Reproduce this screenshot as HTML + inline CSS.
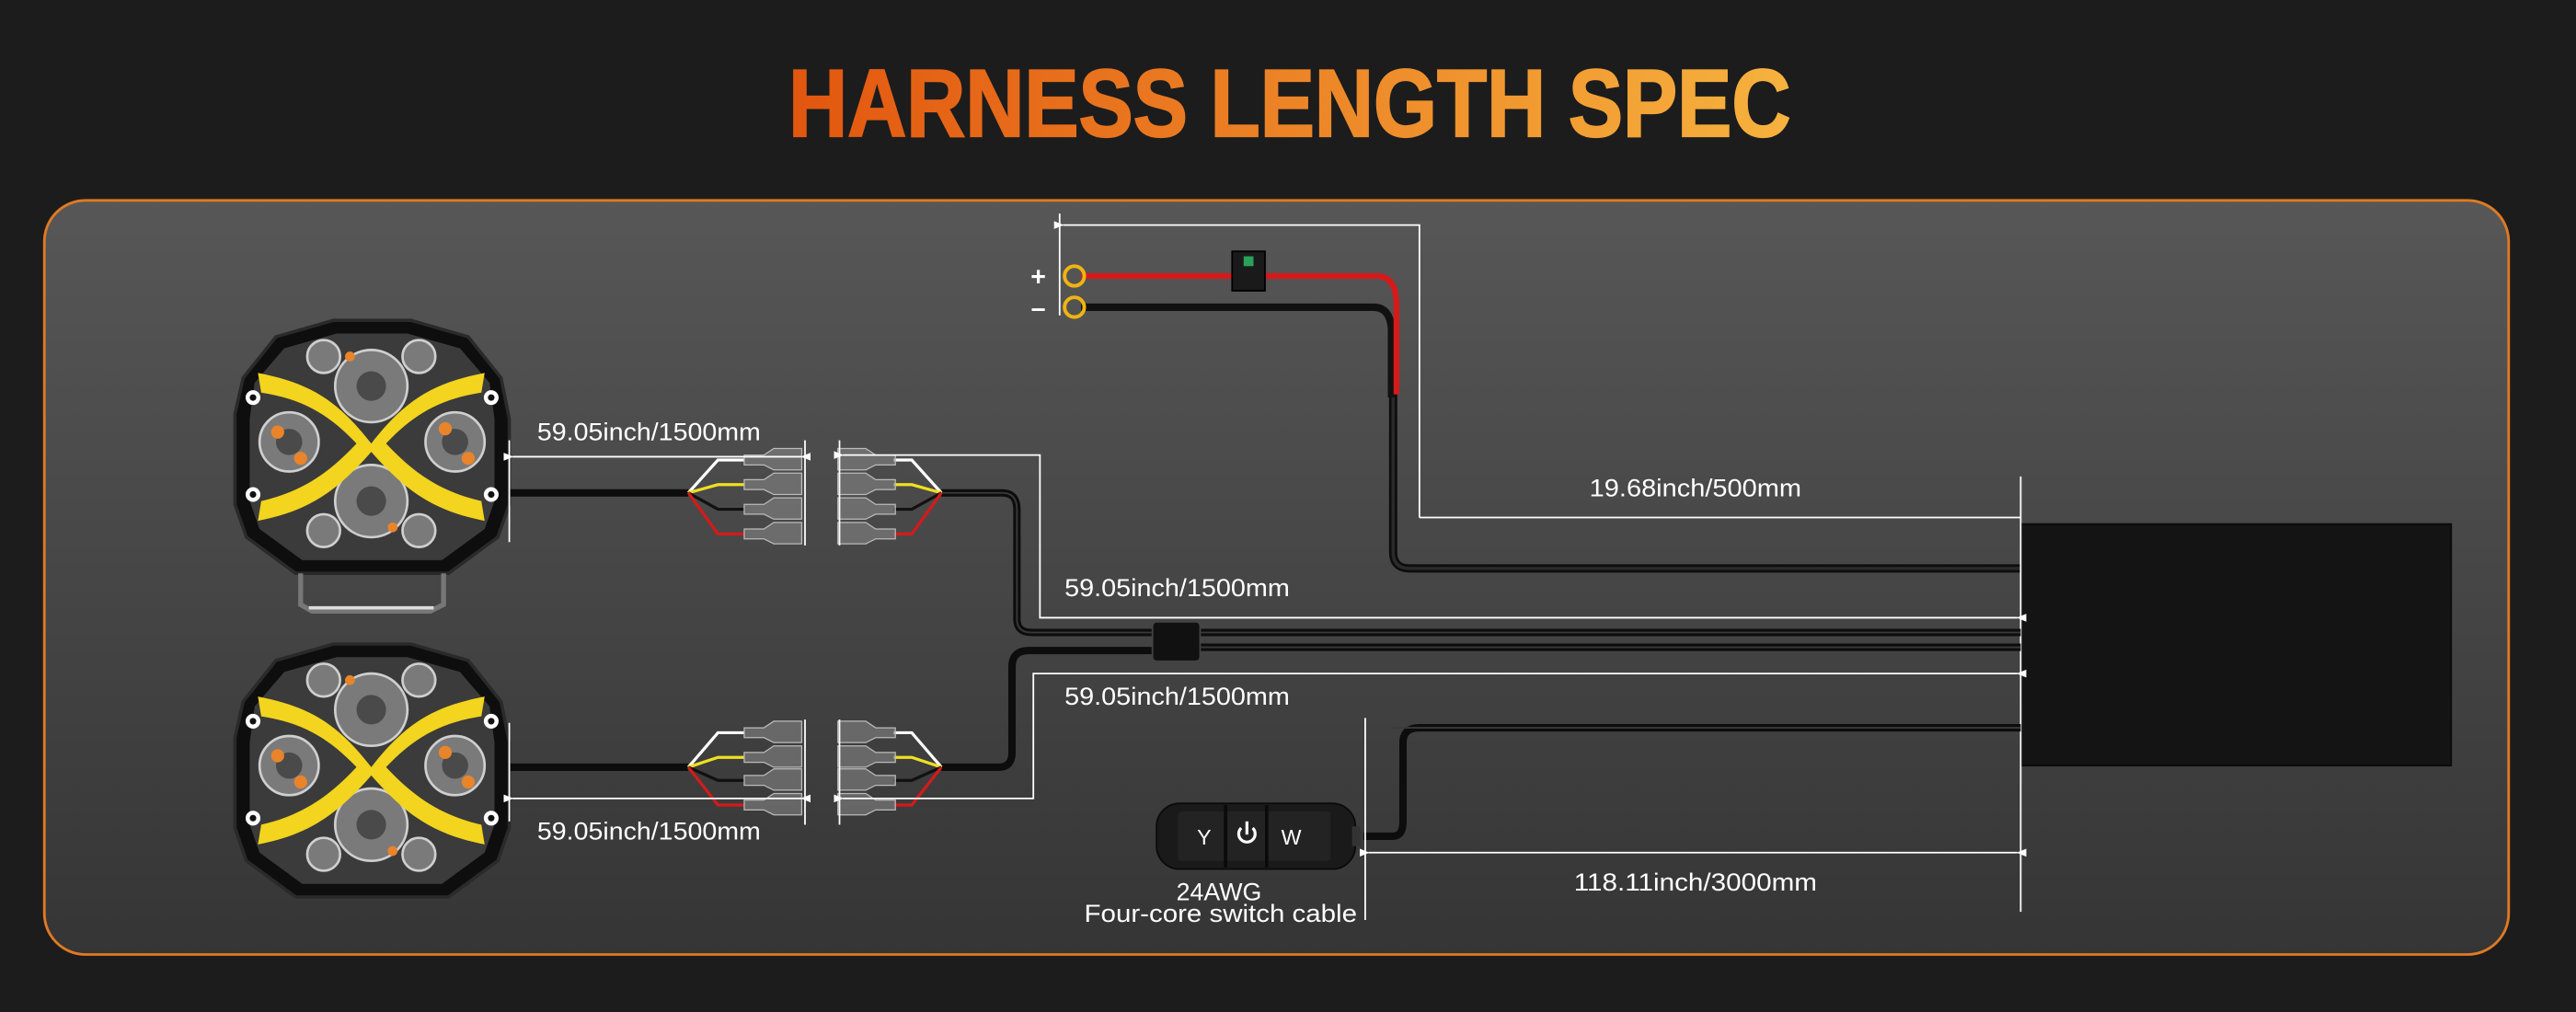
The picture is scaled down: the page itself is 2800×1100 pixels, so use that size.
<!DOCTYPE html>
<html><head><meta charset="utf-8"><style>
html,body{margin:0;padding:0;background:#1b1b1b;}
svg{display:block;}
text{font-family:"Liberation Sans",Arial,sans-serif;}
</style></head><body>
<svg width="2800" height="1100" viewBox="0 0 1568 616" preserveAspectRatio="none" xmlns="http://www.w3.org/2000/svg">
<defs>
<linearGradient id="pg" x1="0" y1="0" x2="0" y2="1">
<stop offset="0" stop-color="#575757"/><stop offset="1" stop-color="#353535"/></linearGradient>
<linearGradient id="tg" x1="0" y1="0" x2="1" y2="0">
<stop offset="0" stop-color="#e2560f"/><stop offset="1" stop-color="#f6b23e"/></linearGradient>
<marker id="al" viewBox="0 0 10 10" refX="1" refY="5" markerWidth="6" markerHeight="6" orient="auto-start-reverse"><path d="M10,1 L0,5 L10,9 z" fill="#fff"/></marker>
<g id="light">
<polygon points="25,10 60,0 107,0 142,10 162,35 167,60 167,112 160,132 130,154 37,154 7,132 0,112 0,57 5,35" fill="#0e0e0e" stroke="#2a2a2a" stroke-width="2"/>
<polygon points="30,17 62,8 105,8 137,17 155,38 158,60 158,110 152,127 126,146 41,146 15,127 9,110 9,60 12,38" fill="#3b3b3b"/>
<g fill="#7a7a7a" stroke="#cfcfcf" stroke-width="1.5">
<circle cx="83" cy="40" r="22"/><circle cx="83" cy="110" r="22"/>
<circle cx="33" cy="74" r="18"/><circle cx="134" cy="74" r="18"/>
<circle cx="54" cy="22" r="10"/><circle cx="112" cy="22" r="10"/>
<circle cx="54" cy="128" r="10"/><circle cx="112" cy="128" r="10"/></g>
<g fill="#4a4a4a"><circle cx="83" cy="40" r="9"/><circle cx="83" cy="110" r="9"/><circle cx="33" cy="74" r="8"/><circle cx="134" cy="74" r="8"/></g>
<g fill="#e9842a"><circle cx="26" cy="68" r="4"/><circle cx="40" cy="84" r="4"/><circle cx="128" cy="66" r="4"/><circle cx="142" cy="84" r="4"/><circle cx="70" cy="22" r="3"/><circle cx="96" cy="126" r="3"/></g>
<path d="M14,32 C45,38 62,48 83,75 C104,48 121,38 152,32 L150,44 C124,48 108,58 92,75 C108,92 124,104 150,110 L152,122 C121,116 104,104 83,80 C62,104 45,116 14,122 L16,110 C42,104 58,92 74,75 C58,58 42,48 16,44 Z" fill="#f3d41e"/>
<g fill="#fff"><circle cx="11" cy="47" r="4.5"/><circle cx="11" cy="106" r="4.5"/><circle cx="156" cy="47" r="4.5"/><circle cx="156" cy="106" r="4.5"/></g>
<g fill="#111"><circle cx="11" cy="47" r="2"/><circle cx="11" cy="106" r="2"/><circle cx="156" cy="47" r="2"/><circle cx="156" cy="106" r="2"/></g>
</g>
<g id="conn" fill="#8a8a8a" fill-opacity="0.55" stroke="#bbb" stroke-width="0.7">
<path d="M0,-3 h12 l6,-4 h17 v13 h-17 l-6,-3 h-12 z"/>
</g>
</defs>

<rect width="1568" height="616" fill="#1c1c1c"/>
<text x="785" y="83" text-anchor="middle" font-size="58" font-weight="bold" fill="url(#tg)" stroke="url(#tg)" stroke-width="1.2" textLength="610" lengthAdjust="spacingAndGlyphs">HARNESS LENGTH SPEC</text>

<rect x="27" y="122" width="1500" height="459" rx="25" fill="url(#pg)" stroke="#e07a22" stroke-width="1.6"/>

<rect x="1230" y="319" width="262" height="147" fill="#141414" stroke="#0a0a0a" stroke-width="1"/>

<path d="M848,240 V336 Q848,346 858,346 H1230" fill="none" stroke="#0d0d0d" stroke-width="5"/>
<path d="M848,240 V336 Q848,346 858,346 H1230" fill="none" stroke="#2a2a2a" stroke-width="2"/>
<path d="M658,187 H836 Q846,187 847,200 V242" fill="none" stroke="#111" stroke-width="4.5"/>
<path d="M658,168 H840 Q850,170 850,185 V240" fill="none" stroke="#d51a1a" stroke-width="3.5"/>
<rect x="750" y="153" width="20" height="24" fill="#1a1a1a" stroke="#000"/>
<rect x="757" y="156" width="6" height="6" fill="#2aa05a"/>
<circle cx="654" cy="168" r="6" fill="none" stroke="#f0b411" stroke-width="2.2"/>
<circle cx="654" cy="187" r="6" fill="none" stroke="#f0b411" stroke-width="2.2"/>
<text x="632" y="174" font-size="16" fill="#fff" font-weight="bold" text-anchor="middle">+</text>
<text x="632" y="193" font-size="16" fill="#fff" font-weight="bold" text-anchor="middle">–</text>

<g stroke="#fff" stroke-width="1" fill="none">
<line x1="645" y1="130" x2="645" y2="192"/>
<polyline points="864,315 864,137 647,137" marker-end="url(#al)"/>
<line x1="864" y1="315" x2="1230" y2="315"/>
<line x1="1230" y1="290" x2="1230" y2="555"/>
</g>
<text x="1032" y="302" font-size="15" fill="#fff" text-anchor="middle" textLength="129" lengthAdjust="spacingAndGlyphs">19.68inch/500mm</text>

<g transform="translate(143,195)"><use href="#light"/></g>
<path d="M183,349 V368 L190,372 H262 L270,368 V349" fill="none" stroke="#777" stroke-width="3"/>
<path d="M188,370 H264" stroke="#ddd" stroke-width="2"/>
<g transform="translate(143,392)"><use href="#light"/></g>

<g fill="none" stroke="#0d0d0d" stroke-width="4.5">
<line x1="310" y1="300" x2="419" y2="300"/>
<line x1="310" y1="467" x2="419" y2="467"/>
<path d="M573,300 H610 Q619,300 619,310 V377 Q619,385 628,385 H701"/>
<path d="M573,467 H608 Q616,467 616,458 V406 Q616,396 626,396 H701"/>
<line x1="731" y1="385" x2="1230" y2="385"/>
<line x1="731" y1="394" x2="1230" y2="394"/>
<path d="M830,509 H848 Q854,509 854,500 V452 Q854,443 864,443 H1230"/>
</g>
<g fill="none" stroke="#3a3a3a" stroke-width="1">
<path d="M573,300 H610 Q619,300 619,310 V377 Q619,385 628,385 H701"/>
<line x1="731" y1="385" x2="1230" y2="385"/>
<line x1="731" y1="394" x2="1230" y2="394"/>
<line x1="848" y1="443" x2="1230" y2="443"/>
</g>
<rect x="702" y="379" width="28" height="23" rx="2" fill="#111"/>

<g fill="none" stroke-width="1.8">
<path d="M419,300 L437,280 H453" stroke="#fff"/>
<path d="M419,300 L437,295 H453" stroke="#f0e020"/>
<path d="M419,300 L437,310 H453" stroke="#111"/>
<path d="M419,300 L437,325 H453" stroke="#d51a1a"/>
<path d="M573,300 L555,280 H544" stroke="#fff"/>
<path d="M573,300 L555,295 H544" stroke="#f0e020"/>
<path d="M573,300 L555,310 H544" stroke="#111"/>
<path d="M573,300 L555,325 H544" stroke="#d51a1a"/>
<path d="M419,467 L437,446 H453" stroke="#fff"/>
<path d="M419,467 L437,461 H453" stroke="#f0e020"/>
<path d="M419,467 L437,475 H453" stroke="#111"/>
<path d="M419,467 L437,490 H453" stroke="#d51a1a"/>
<path d="M573,467 L555,446 H544" stroke="#fff"/>
<path d="M573,467 L555,461 H544" stroke="#f0e020"/>
<path d="M573,467 L555,475 H544" stroke="#111"/>
<path d="M573,467 L555,490 H544" stroke="#d51a1a"/>
</g>
<g transform="translate(453,280)"><use href="#conn"/></g>
<g transform="translate(453,295)"><use href="#conn"/></g>
<g transform="translate(453,310)"><use href="#conn"/></g>
<g transform="translate(453,325)"><use href="#conn"/></g>
<g transform="translate(453,446)"><use href="#conn"/></g>
<g transform="translate(453,461)"><use href="#conn"/></g>
<g transform="translate(453,475)"><use href="#conn"/></g>
<g transform="translate(453,490)"><use href="#conn"/></g>
<g transform="translate(545,280) scale(-1,1)"><use href="#conn"/></g>
<g transform="translate(545,295) scale(-1,1)"><use href="#conn"/></g>
<g transform="translate(545,310) scale(-1,1)"><use href="#conn"/></g>
<g transform="translate(545,325) scale(-1,1)"><use href="#conn"/></g>
<g transform="translate(545,446) scale(-1,1)"><use href="#conn"/></g>
<g transform="translate(545,461) scale(-1,1)"><use href="#conn"/></g>
<g transform="translate(545,475) scale(-1,1)"><use href="#conn"/></g>
<g transform="translate(545,490) scale(-1,1)"><use href="#conn"/></g>

<g stroke="#fff" stroke-width="1" fill="none">
<line x1="310" y1="268" x2="310" y2="330"/>
<line x1="312" y1="278" x2="488" y2="278" marker-start="url(#al)" marker-end="url(#al)"/>
<line x1="490" y1="268" x2="490" y2="332"/>
<line x1="511" y1="268" x2="511" y2="332"/>
<polyline points="1228,376 633,376 633,277 513,277" marker-start="url(#al)" marker-end="url(#al)"/>
<polyline points="1228,410 629,410 629,486 513,486" marker-start="url(#al)" marker-end="url(#al)"/>
<line x1="310" y1="440" x2="310" y2="500"/>
<line x1="312" y1="486" x2="488" y2="486" marker-start="url(#al)" marker-end="url(#al)"/>
<line x1="490" y1="438" x2="490" y2="502"/>
<line x1="511" y1="438" x2="511" y2="502"/>
<line x1="831" y1="437" x2="831" y2="560"/>
<line x1="833" y1="519" x2="1228" y2="519" marker-start="url(#al)" marker-end="url(#al)"/>
</g>
<g font-size="15" fill="#fff">
<text x="327" y="268" textLength="136" lengthAdjust="spacingAndGlyphs">59.05inch/1500mm</text>
<text x="327" y="511" textLength="136" lengthAdjust="spacingAndGlyphs">59.05inch/1500mm</text>
<text x="648" y="363" textLength="137" lengthAdjust="spacingAndGlyphs">59.05inch/1500mm</text>
<text x="648" y="429" textLength="137" lengthAdjust="spacingAndGlyphs">59.05inch/1500mm</text>
<text x="1032" y="542" text-anchor="middle" textLength="148" lengthAdjust="spacingAndGlyphs">118.11inch/3000mm</text>
<text x="742" y="548" text-anchor="middle">24AWG</text>
<text x="743" y="561" text-anchor="middle" textLength="166" lengthAdjust="spacingAndGlyphs">Four-core switch cable</text>
</g>

<rect x="704" y="489" width="121" height="40" rx="14" fill="#1a1a1a" stroke="#0a0a0a"/>
<rect x="823" y="503" width="5" height="12" fill="#333"/>
<rect x="717" y="494" width="93" height="30" rx="2" fill="#232323"/>
<g stroke="#0a0a0a" stroke-width="2"><line x1="746" y1="490" x2="746" y2="528"/><line x1="771" y1="490" x2="771" y2="528"/></g>
<g font-size="13" fill="#fff" text-anchor="middle"><text x="733" y="514">Y</text><text x="786" y="514">W</text></g>
<path d="M755.5,504 A5,5 0 1 0 762.5,504" fill="none" stroke="#fff" stroke-width="1.8"/>
<line x1="759" y1="500" x2="759" y2="508" stroke="#fff" stroke-width="1.8"/>
</svg>
</body></html>
